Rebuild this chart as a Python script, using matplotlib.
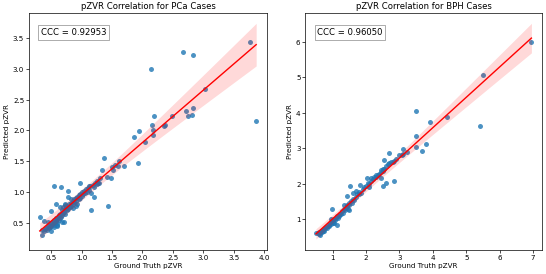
import numpy as np
import matplotlib
matplotlib.use("Agg")
import matplotlib.pyplot as plt

# ---------------- PCa data ----------------
pca_gt = [0.35, 0.38, 0.40, 0.42, 0.43, 0.45, 0.46, 0.47, 0.48, 0.50, 0.50, 0.52, 0.53, 0.54, 0.55,
          0.56, 0.57, 0.58, 0.59, 0.60, 0.61, 0.62, 0.63, 0.64, 0.65, 0.66, 0.67, 0.68, 0.69, 0.70,
          0.71, 0.72, 0.73, 0.74, 0.75, 0.76, 0.78, 0.79, 0.80, 0.82, 0.83, 0.85, 0.86, 0.87, 0.88,
          0.90, 0.91, 0.92, 0.93, 0.95, 0.96, 0.97, 0.98, 1.00, 1.01, 1.02, 1.04, 1.05, 1.07, 1.08,
          1.10, 1.12, 1.14, 1.15, 1.18, 1.20, 1.22, 1.25, 1.27, 1.30,
          0.50, 0.45, 0.55, 0.65, 0.72, 0.85, 0.90, 0.78, 0.82, 0.68, 0.60,
          0.31, 0.34, 0.38, 0.50, 0.57, 0.73, 0.71, 0.60, 0.55, 0.66, 0.77, 1.12, 0.98,
          1.16, 1.20, 1.44, 1.25, 1.28, 1.41, 1.48, 1.51, 1.34, 1.37, 1.50, 1.54, 1.62, 1.70, 1.60,
          1.93, 1.86, 2.04, 2.17, 1.94, 2.15, 2.18, 2.19, 2.37, 2.48, 2.36,
          2.72, 2.83, 2.75, 2.82, 3.03, 2.14, 2.66, 2.83, 3.77, 3.87]
pca_pred = [0.38, 0.36, 0.40, 0.42, 0.38, 0.44, 0.41, 0.47, 0.43, 0.45, 0.50, 0.48, 0.52, 0.46, 0.55,
            0.50, 0.53, 0.58, 0.49, 0.56, 0.60, 0.54, 0.62, 0.58, 0.65, 0.60, 0.70, 0.63, 0.75, 0.66,
            0.68, 0.72, 0.64, 0.74, 0.70, 0.77, 0.73, 0.80, 0.76, 0.82, 0.78, 0.85, 0.80, 0.88, 0.83,
            0.90, 0.86, 0.80, 0.92, 0.88, 0.95, 0.90, 0.97, 0.93, 1.00, 0.96, 1.02, 0.98, 1.05, 1.00,
            1.07, 1.03, 1.10, 0.99, 1.12, 1.08, 1.15, 1.18, 1.14, 1.22,
            0.36, 0.52, 0.43, 0.76, 0.80, 0.74, 0.78, 0.92, 0.88, 0.52, 0.44,
            0.60, 0.31, 0.53, 0.69, 0.81, 0.79, 0.51, 0.46, 1.09, 1.08, 1.02, 1.09, 1.15,
            0.70, 0.92, 0.77, 1.13, 1.15, 1.25, 1.22, 1.35, 1.36, 1.55, 1.41, 1.44, 1.50, 1.43, 1.42,
            1.47, 1.90, 1.81, 1.92, 1.99, 2.09, 2.01, 2.23, 2.09, 2.24, 2.08,
            2.31, 2.37, 2.24, 2.25, 2.67, 3.00, 3.28, 3.22, 3.43, 2.16]

# ---------------- BPH data ----------------
bph_gt = [0.50, 0.55, 0.58, 0.60, 0.62, 0.65, 0.68, 0.70, 0.72, 0.75, 0.78, 0.80, 0.82, 0.85, 0.88,
          0.90, 0.92, 0.95, 0.98, 1.00, 1.02, 1.05, 1.08, 1.10, 1.12, 1.15, 1.18, 1.20, 1.22, 1.25,
          1.28, 1.30, 1.35, 1.38, 1.40, 1.42, 1.45, 1.48, 1.50, 1.55, 1.58, 1.62, 1.65, 1.70, 1.72,
          1.78, 1.80, 1.85, 1.90, 1.95, 2.00, 2.05, 2.10, 2.15, 2.20, 2.25, 2.30, 2.35, 2.40, 2.45,
          2.50, 2.55, 2.60, 2.65, 2.70, 2.75, 2.80, 2.90, 3.00, 3.10,
          0.62, 0.75, 0.95, 1.05, 1.35, 1.60, 2.45,
          0.99, 1.12, 1.49, 1.42, 1.44, 1.53, 1.70, 1.83, 2.03, 2.14, 2.10, 2.31, 2.46, 2.60, 2.51,
          2.85, 2.51, 2.53, 2.68, 2.85, 3.07, 3.12, 3.23, 3.66, 3.79, 3.49, 3.49, 3.49,
          3.91, 4.43, 5.40, 5.51, 6.95]
bph_pred = [0.60, 0.62, 0.58, 0.64, 0.60, 0.66, 0.63, 0.70, 0.67, 0.72, 0.75, 0.78, 0.74, 0.80, 0.84,
            0.82, 0.88, 0.86, 0.92, 0.95, 0.90, 1.00, 0.97, 1.04, 1.08, 1.02, 1.12, 1.10, 1.16, 1.14,
            1.22, 1.18, 1.28, 1.25, 1.32, 1.38, 1.30, 1.45, 1.40, 1.50, 1.46, 1.58, 1.55, 1.62, 1.72,
            1.70, 1.78, 1.75, 1.85, 1.90, 1.95, 2.02, 1.98, 2.08, 2.12, 2.18, 2.20, 2.25, 2.28, 2.40,
            2.35, 2.42, 2.50, 2.55, 2.58, 2.60, 2.62, 2.70, 2.80, 2.85,
            0.55, 0.66, 1.00, 0.88, 1.40, 1.75, 2.32,
            1.28, 0.83, 1.27, 1.41, 1.65, 1.94, 1.80, 1.96, 2.16, 2.15, 1.91, 2.24, 2.16, 2.01, 1.94,
            2.08, 2.42, 2.67, 2.87, 2.65, 2.81, 2.98, 2.90, 2.93, 3.12, 3.05, 3.35, 4.05,
            3.75, 3.87, 3.62, 5.06, 5.99]

ccc_pca = "0.92953"
ccc_bph = "0.96050"

titles = ["pZVR Correlation for PCa Cases", "pZVR Correlation for BPH Cases"]

FS = 1.12


def draw(ax, x, y, title, ccc):
    x = np.asarray(x, float)
    y = np.asarray(y, float)
    ax.scatter(x, y, s=62, color="C0", alpha=0.8, linewidths=0)
    b, a = np.polyfit(x, y, 1)
    xs = np.linspace(x.min(), x.max(), 100)
    ys = a + b * xs
    n = len(x)
    resid = y - (a + b * x)
    s = np.sqrt(np.sum(resid ** 2) / (n - 2))
    se = s * np.sqrt(1.0 / n + (xs - x.mean()) ** 2 / np.sum((x - x.mean()) ** 2))
    t = 1.98
    ax.fill_between(xs, ys - 2.3 * t * se, ys + 2.3 * t * se, color="red", alpha=0.15, linewidth=0)
    ax.plot(xs, ys, color="red", lw=2.2)
    ax.set_title(title, fontsize=12 * FS)
    ax.set_xlabel("Ground Truth pZVR", fontsize=10 * FS)
    ax.set_ylabel("Predicted pZVR", fontsize=10 * FS)
    ax.tick_params(labelsize=10 * FS, width=1.1, length=4)
    for sp in ax.spines.values():
        sp.set_linewidth(1.1)
    ax.text(0.05, 0.935, f"CCC = {ccc}", transform=ax.transAxes, fontsize=12 * FS, va="top",
            bbox=dict(facecolor="white", edgecolor="gray", boxstyle="square,pad=0.3"))


fig = plt.figure(figsize=(12, 6.03), dpi=45.5)
ax1 = fig.add_axes([0.053, 0.088, 0.436, 0.865])
ax2 = fig.add_axes([0.559, 0.088, 0.434, 0.865])
draw(ax1, pca_gt, pca_pred, titles[0], ccc_pca)
draw(ax2, bph_gt, bph_pred, titles[1], ccc_bph)
ax1.set_xticks([0.5, 1.0, 1.5, 2.0, 2.5, 3.0, 3.5, 4.0])
ax1.set_yticks([0.5, 1.0, 1.5, 2.0, 2.5, 3.0, 3.5])
ax2.set_xticks([1, 2, 3, 4, 5, 6, 7])
ax2.set_yticks([1, 2, 3, 4, 5, 6])
fig.savefig("out.png", dpi=45.5)
